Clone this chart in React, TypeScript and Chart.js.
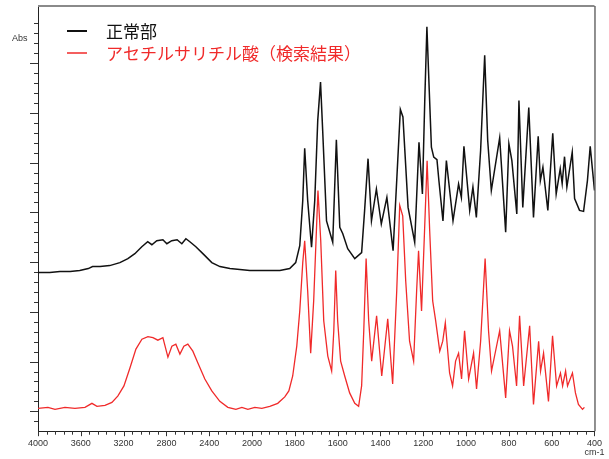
import React, { useEffect, useRef } from "react";
import { Chart, registerables, LinearScale } from "chart.js";

// ---- data (wavenumber in cm-1, absorbance in arbitrary units) ----
const SERIES_LABELS = ["正常部", "アセチルサリチル酸（検索結果）"];
const SERIES_COLORS = ["#111111", "#f02a2a"];

const WN_NORMAL = [
  4000, 3890, 3795, 3700, 3610, 3530, 3490, 3420, 3330, 3235, 3160, 3095, 3030, 2975, 2936, 2890,
  2833, 2796, 2750, 2700, 2656, 2618, 2581, 2525, 2450, 2376, 2300, 2207, 2114, 2021, 1963, 1917,
  1870, 1824, 1796, 1777, 1763, 1754, 1740, 1722, 1707, 1693, 1680, 1670, 1652, 1623, 1606, 1590,
  1576, 1553, 1520, 1488, 1474, 1458, 1442, 1419, 1396, 1370, 1341, 1324, 1307, 1295, 1271, 1240,
  1220, 1204, 1193, 1183, 1172, 1162, 1151, 1136, 1127, 1108, 1092, 1061, 1035, 1022, 1010, 983,
  968, 952, 932, 913, 899, 882, 843, 815, 800, 786, 763, 753, 735, 707, 685, 663,
  653, 641, 618, 595, 579, 560, 551, 540, 529, 504, 493, 470, 451, 433, 420, 409, 400,
];
const ABS_NORMAL = [
  0.319, 0.319, 0.321, 0.321, 0.323, 0.327, 0.331, 0.331, 0.333, 0.339, 0.347, 0.357, 0.371, 0.381, 0.375, 0.383,
  0.385, 0.377, 0.383, 0.385, 0.377, 0.387, 0.381, 0.371, 0.355, 0.339, 0.331, 0.327, 0.325, 0.323, 0.323, 0.323,
  0.323, 0.327, 0.339, 0.373, 0.464, 0.569, 0.464, 0.370, 0.464, 0.625, 0.702, 0.605, 0.423, 0.380, 0.586, 0.410,
  0.397, 0.367, 0.347, 0.359, 0.444, 0.548, 0.423, 0.487, 0.417, 0.470, 0.363, 0.504, 0.647, 0.632, 0.450, 0.380,
  0.581, 0.477, 0.665, 0.813, 0.685, 0.571, 0.551, 0.546, 0.504, 0.423, 0.544, 0.423, 0.497, 0.470, 0.573, 0.444,
  0.491, 0.430, 0.565, 0.756, 0.585, 0.484, 0.590, 0.400, 0.578, 0.544, 0.437, 0.665, 0.450, 0.651, 0.430, 0.593,
  0.504, 0.531, 0.444, 0.599, 0.477, 0.528, 0.498, 0.552, 0.491, 0.561, 0.468, 0.444, 0.442, 0.504, 0.573, 0.524, 0.484,
];

const WN_ASPIRIN = [
  4000, 3907, 3841, 3748, 3655, 3561, 3496, 3449, 3374, 3309, 3253, 3197, 3141, 3085, 3029, 2973,
  2926, 2880, 2833, 2786, 2749, 2712, 2674, 2637, 2600, 2553, 2506, 2441, 2376, 2301, 2226, 2151,
  2095, 2039, 1987, 1954, 1917, 1880, 1847, 1828, 1810, 1791, 1777, 1763, 1754, 1740, 1726, 1712,
  1692, 1679, 1665, 1646, 1628, 1618, 1609, 1600, 1586, 1567, 1544, 1520, 1502, 1488, 1478, 1467,
  1455, 1441, 1418, 1394, 1366, 1343, 1324, 1310, 1296, 1282, 1264, 1245, 1231, 1222, 1208, 1194,
  1182, 1170, 1156, 1142, 1123, 1109, 1097, 1077, 1063, 1049, 1035, 1021, 1007, 988, 965, 951,
  932, 911, 895, 881, 843, 815, 797, 783, 764, 750, 731, 703, 685, 661, 652, 638,
  615, 596, 577, 559, 549, 535, 526, 503, 489, 475, 456, 447,
];
const ABS_ASPIRIN = [
  0.046, 0.048, 0.044, 0.048, 0.046, 0.048, 0.056, 0.050, 0.052, 0.058, 0.071, 0.091, 0.127, 0.165, 0.185, 0.190,
  0.188, 0.183, 0.188, 0.149, 0.171, 0.175, 0.155, 0.171, 0.175, 0.161, 0.137, 0.105, 0.081, 0.060, 0.048, 0.044,
  0.048, 0.044, 0.048, 0.046, 0.050, 0.056, 0.069, 0.081, 0.111, 0.171, 0.242, 0.339, 0.383, 0.282, 0.157, 0.262,
  0.484, 0.383, 0.222, 0.151, 0.121, 0.202, 0.323, 0.222, 0.141, 0.111, 0.077, 0.056, 0.050, 0.091, 0.202, 0.347,
  0.222, 0.141, 0.232, 0.111, 0.226, 0.095, 0.282, 0.454, 0.433, 0.302, 0.181, 0.141, 0.282, 0.363, 0.242, 0.403,
  0.544, 0.403, 0.262, 0.222, 0.161, 0.181, 0.218, 0.117, 0.091, 0.141, 0.157, 0.105, 0.202, 0.105, 0.157, 0.085,
  0.181, 0.347, 0.202, 0.121, 0.202, 0.067, 0.202, 0.171, 0.091, 0.232, 0.091, 0.212, 0.054, 0.181, 0.121, 0.157,
  0.060, 0.192, 0.091, 0.117, 0.091, 0.121, 0.091, 0.117, 0.077, 0.054, 0.044, 0.048,
];

const X_MIN = 400;
const X_MAX = 4000;
const BREAK = 2000; // below this the axis is expanded 2x
const Y_MIN = 0;
const Y_MAX = 0.855;
const Y_STEP = 0.02;

// piecewise IR wavenumber axis (4000-2000 compressed, 2000-400 expanded)
const toU = (w: number) => (w >= BREAK ? (X_MAX - w) / 2 : (X_MAX - BREAK) / 2 + (BREAK - w));
const fromU = (u: number) => {
  const split = (X_MAX - BREAK) / 2;
  return u <= split ? X_MAX - 2 * u : BREAK - (u - split);
};
const U_TOTAL = toU(X_MIN);

class IrScale extends LinearScale {
  static id = "irwave";
  buildTicks() {
    const ticks: any[] = [];
    for (let u = 0; u <= U_TOTAL + 1e-6; u += 40) {
      ticks.push({ value: Math.round(fromU(u)), major: Math.round(u) % 200 === 0 });
    }
    return ticks;
  }
  getPixelForValue(value: number) {
    return this.getPixelForDecimal(toU(value) / U_TOTAL);
  }
  getValueForPixel(pixel: number) {
    return fromU(this.getDecimalForPixel(pixel) * U_TOTAL);
  }
}

Chart.register(...registerables, IrScale as any);

const decorPlugin = {
  id: "irDecor",
  afterDraw(chart: any) {
    const { ctx, chartArea, scales } = chart;
    const xs = scales.x;
    const ys = scales.y;
    ctx.save();
    // frame: top (gray) and right (dark)
    ctx.strokeStyle = "#8a8a8a";
    ctx.lineWidth = 2;
    ctx.beginPath();
    ctx.moveTo(chartArea.left, chartArea.top);
    ctx.lineTo(chartArea.right, chartArea.top);
    ctx.stroke();
    ctx.strokeStyle = "#222";
    ctx.lineWidth = 1;
    ctx.beginPath();
    ctx.moveTo(chartArea.right + 0.5, chartArea.top);
    ctx.lineTo(chartArea.right + 0.5, chartArea.bottom);
    ctx.stroke();

    // x tick marks
    ctx.strokeStyle = "#333";
    ctx.lineWidth = 1;
    ctx.beginPath();
    xs.ticks.forEach((t: any) => {
      const px = Math.round(xs.getPixelForValue(t.value)) + 0.5;
      const len = t.major ? 5 : 3.5;
      ctx.moveTo(px, chartArea.bottom);
      ctx.lineTo(px, chartArea.bottom + len);
    });
    ctx.stroke();

    // y tick marks
    ctx.beginPath();
    ys.ticks.forEach((t: any) => {
      const v = t.value;
      if (v <= Y_MIN + 1e-6 || v > 0.845) return;
      const n = Math.round(v / Y_STEP);
      const major = n % 5 === 2;
      const py = Math.round(ys.getPixelForValue(v)) + 0.5;
      ctx.moveTo(chartArea.left, py);
      ctx.lineTo(chartArea.left - (major ? 8 : 4), py);
    });
    ctx.stroke();

    // axis unit texts
    ctx.fillStyle = "#333";
    ctx.font = "9px 'Liberation Sans', Arial, sans-serif";
    ctx.textBaseline = "middle";
    ctx.textAlign = "left";
    ctx.fillText("Abs", 12, 39);
    ctx.textAlign = "center";
    ctx.fillText("cm-1", chartArea.right, 453);

    // legend
    const legendY = [31, 53];
    SERIES_LABELS.forEach((label, i) => {
      ctx.strokeStyle = SERIES_COLORS[i];
      ctx.lineWidth = i === 0 ? 2 : 1.5;
      ctx.beginPath();
      ctx.moveTo(67, legendY[i]);
      ctx.lineTo(87, legendY[i]);
      ctx.stroke();
      ctx.fillStyle = SERIES_COLORS[i];
      ctx.font = "17px 'Noto Sans CJK JP', sans-serif";
      ctx.textAlign = "left";
      ctx.textBaseline = "middle";
      ctx.fillText(label, 106, legendY[i] + 1);
    });
    ctx.restore();
  },
};

export default function App() {
  const canvasRef = useRef<HTMLCanvasElement | null>(null);

  useEffect(() => {
    if (!canvasRef.current) return;
    const normal = WN_NORMAL.map((w, i) => ({ x: w, y: ABS_NORMAL[i] }));
    const aspirin = WN_ASPIRIN.map((w, i) => ({ x: w, y: ABS_ASPIRIN[i] }));
    const chart = new Chart(canvasRef.current, {
      type: "line",
      data: {
        datasets: [
          {
            label: SERIES_LABELS[0],
            data: normal,
            borderColor: SERIES_COLORS[0],
            borderWidth: 1.5,
            pointRadius: 0,
            tension: 0,
            fill: false,
          },
          {
            label: SERIES_LABELS[1],
            data: aspirin,
            borderColor: SERIES_COLORS[1],
            borderWidth: 1.3,
            pointRadius: 0,
            tension: 0,
            fill: false,
          },
        ],
      },
      options: {
        responsive: false,
        animation: false,
        events: [],
        layout: { padding: { left: 38, right: 14, top: 6, bottom: 3 } },
        plugins: {
          legend: { display: false },
          tooltip: { enabled: false },
        },
        scales: {
          x: {
            type: "irwave" as any,
            min: X_MIN,
            max: X_MAX,
            grid: { display: false, drawTicks: false, tickLength: 0 },
            border: { display: true, color: "#222", width: 1 },
            ticks: {
              autoSkip: false,
              maxRotation: 0,
              minRotation: 0,
              padding: 7,
              color: "#333",
              font: { family: "'Liberation Sans', Arial, sans-serif", size: 9, lineHeight: 1.2 },
              callback: (value: any, index: number, ticks: any[]) =>
                ticks[index] && ticks[index].major ? String(value) : "",
            },
          },
          y: {
            type: "linear",
            min: Y_MIN,
            max: Y_MAX,
            grid: { display: false, drawTicks: false, tickLength: 0 },
            border: { display: true, color: "#222", width: 1 },
            ticks: { display: false, stepSize: Y_STEP },
          },
        },
      } as any,
      plugins: [decorPlugin],
    });
    return () => chart.destroy();
  }, []);

  return (
    <div style={{ position: "absolute", left: 0, top: 0, width: 609, height: 459, background: "#fff" }}>
      <canvas ref={canvasRef} width={609} height={459} />
    </div>
  );
}
